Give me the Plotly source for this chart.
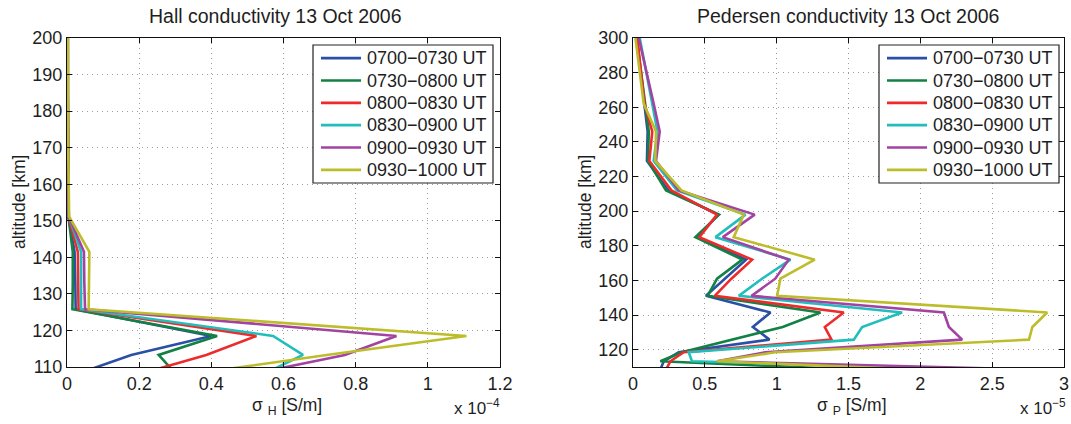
import plotly.graph_objects as go

# Altitude grid of the conductivity profiles [km]
altitude_km = [108.5, 113.3, 118.5, 125.8, 133.1, 141.5, 151.1, 161.0,
               172.0, 185.0, 198.0, 212.0, 229.0, 246.0, 262.0, 300.0]

interval_labels = ["0700\u22120730 UT", "0730\u22120800 UT", "0800\u22120830 UT",
                   "0830\u22120900 UT", "0900\u22120930 UT", "0930\u22121000 UT"]

# Hall conductivity, units of 1e-4 S/m
hall_0700 = [0.040, 0.178, 0.400, 0.024, 0.023, 0.021, 0.004, 0.003, 0.002, 0.002, 0.002, 0.001, 0.001, 0.001, 0.001, 0.001]
hall_0730 = [0.298, 0.254, 0.416, 0.015, 0.016, 0.016, 0.004, 0.003, 0.002, 0.002, 0.002, 0.001, 0.001, 0.001, 0.001, 0.001]
hall_0800 = [0.217, 0.386, 0.525, 0.032, 0.031, 0.030, 0.004, 0.003, 0.002, 0.002, 0.002, 0.001, 0.001, 0.001, 0.001, 0.001]
hall_0830 = [0.554, 0.654, 0.571, 0.039, 0.039, 0.039, 0.005, 0.003, 0.002, 0.002, 0.002, 0.001, 0.001, 0.001, 0.001, 0.001]
hall_0900 = [0.534, 0.770, 0.913, 0.050, 0.048, 0.047, 0.005, 0.003, 0.003, 0.002, 0.002, 0.001, 0.001, 0.001, 0.001, 0.001]
hall_0930 = [0.377, 0.720, 1.107, 0.060, 0.061, 0.062, 0.006, 0.004, 0.003, 0.003, 0.002, 0.002, 0.001, 0.001, 0.001, 0.001]

# Pedersen conductivity, units of 1e-5 S/m
ped_0700 = [0.19, 0.214, 0.318, 0.950, 0.834, 0.957, 0.508, 0.639, 0.787, 0.446, 0.594, 0.245, 0.097, 0.102, 0.079, 0.025]
ped_0730 = [1.55, 0.190, 0.340, 0.690, 1.042, 1.305, 0.520, 0.585, 0.761, 0.434, 0.599, 0.230, 0.104, 0.110, 0.085, 0.025]
ped_0800 = [0.23, 0.260, 0.353, 1.382, 1.335, 1.467, 0.569, 0.685, 0.829, 0.462, 0.585, 0.267, 0.114, 0.134, 0.080, 0.030]
ped_0830 = [2.60, 0.410, 0.388, 1.537, 1.595, 1.873, 0.736, 0.898, 1.096, 0.574, 0.783, 0.306, 0.144, 0.170, 0.134, 0.047]
ped_0900 = [2.80, 0.585, 0.922, 2.291, 2.199, 2.164, 0.825, 0.990, 1.084, 0.625, 0.847, 0.320, 0.160, 0.186, 0.144, 0.040]
ped_0930 = [2.00, 0.585, 0.990, 2.756, 2.780, 2.883, 1.003, 1.026, 1.265, 0.701, 0.771, 0.337, 0.155, 0.160, 0.075, 0.017]

hall_profiles = [hall_0700, hall_0730, hall_0800, hall_0830, hall_0900, hall_0930]
ped_profiles = [ped_0700, ped_0730, ped_0800, ped_0830, ped_0900, ped_0930]

line_colors = ["#2c4fa6", "#138044", "#ee2b2b", "#22bdbd", "#a243a2", "#bdbd2c"]

FONT = "Liberation Sans, Arial, Helvetica, sans-serif"
TXT = "#1e1e1e"

W, H = 1071, 424

fig = go.Figure()

for lab, vals, col in zip(interval_labels, hall_profiles, line_colors):
    fig.add_trace(go.Scatter(x=vals, y=altitude_km, mode="lines", name=lab,
                             line=dict(color=col, width=2.6),
                             xaxis="x", yaxis="y", showlegend=False))

for lab, vals, col in zip(interval_labels, ped_profiles, line_colors):
    fig.add_trace(go.Scatter(x=vals, y=altitude_km, mode="lines", name=lab,
                             line=dict(color=col, width=2.6),
                             xaxis="x2", yaxis="y2", showlegend=False))

axis_common = dict(
    showline=True, linecolor="#111", linewidth=1, mirror="ticks",
    ticks="inside", ticklen=5, tickcolor="#111",
    showgrid=True, gridcolor="#9c9c9c", griddash="1px,4px", gridwidth=1,
    zeroline=False, automargin=False,
    tickfont=dict(family=FONT, size=18, color=TXT),
)

left_x = (67 / W, 500 / W)
right_x = (633 / W, 1064 / W)
plot_y = (1 - 367 / H, 1 - 38 / H)

fig.update_layout(
    width=W, height=H,
    margin=dict(l=0, r=0, t=0, b=0),
    paper_bgcolor="white", plot_bgcolor="white",
    font=dict(family=FONT, color=TXT),
    showlegend=False,
    xaxis=dict(domain=left_x, anchor="y", range=[0, 1.2],
               tickvals=[0, 0.2, 0.4, 0.6, 0.8, 1.0, 1.2],
               ticktext=["0", "0.2", "0.4", "0.6", "0.8", "1", "1.2"], **axis_common),
    yaxis=dict(domain=plot_y, anchor="x", range=[110, 200],
               tickvals=list(range(110, 201, 10)), **axis_common),
    xaxis2=dict(domain=right_x, anchor="y2", range=[0, 3],
                tickvals=[0, 0.5, 1, 1.5, 2, 2.5, 3],
                ticktext=["0", "0.5", "1", "1.5", "2", "2.5", "3"], **axis_common),
    yaxis2=dict(domain=plot_y, anchor="x2", range=[110, 300],
                tickvals=list(range(120, 301, 20)), **axis_common),
)


def note(text, x, y, size=18, angle=0, xanchor="center"):
    fig.add_annotation(text=text, x=x / W, y=1 - y / H, xref="paper", yref="paper",
                       showarrow=False, textangle=angle, xanchor=xanchor, yanchor="middle",
                       font=dict(family=FONT, size=size, color=TXT))


# boxed legend inside each panel's upper right corner
def legend_box(left, top, right, bottom):
    fig.add_shape(type="rect", xref="paper", yref="paper",
                  x0=left / W, x1=right / W, y0=1 - bottom / H, y1=1 - top / H,
                  line=dict(color="#222", width=1.2), fillcolor="white", layer="above")
    row_gap = (bottom - top - 4) / len(interval_labels)
    for i, (lab, col) in enumerate(zip(interval_labels, line_colors)):
        yc = top + 2 + row_gap * (i + 0.5)
        fig.add_shape(type="line", xref="paper", yref="paper",
                      x0=(left + 8) / W, x1=(left + 48) / W,
                      y0=1 - yc / H, y1=1 - yc / H,
                      line=dict(color=col, width=2.6), layer="above")
        note(lab, left + 52, yc, size=18, xanchor="left")


legend_box(313, 45, 493, 183)
legend_box(879, 45, 1059, 183)

# titles
note("Hall conductivity 13 Oct 2006", 275, 16, size=19.5)
note("Pedersen conductivity 13 Oct 2006", 848, 16, size=19.5)

# axis labels
note("altitude [km]", 19, 202, size=17.5, angle=-90)
note("altitude [km]", 585, 202, size=17.5, angle=-90)
note("\u03c3 <sub>H</sub> [S/m]", 287, 406, size=17.5)
note("\u03c3 <sub>P</sub> [S/m]", 852, 406, size=17.5)

# exponent labels
note("x 10<sup>\u22124</sup>", 452, 407, size=17, xanchor="left")
note("x 10<sup>\u22125</sup>", 1018, 407, size=17, xanchor="left")

fig.write_html("out.html")
